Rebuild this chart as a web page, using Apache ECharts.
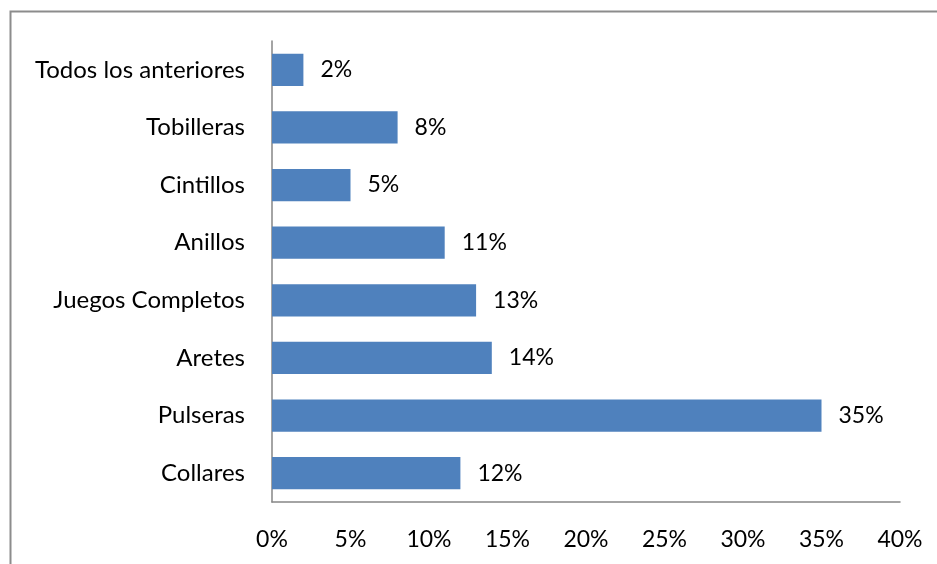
<!DOCTYPE html>
<html>
<head>
<meta charset="utf-8">
<script src="https://cdn.jsdelivr.net/npm/echarts@6/dist/echarts.min.js"></script>
<style>
  html, body { margin: 0; padding: 0; background: #fff; }
  #chart { width: 937px; height: 564px; }
</style>
</head>
<body>
<div id="chart"></div>
<script>
// Categories listed bottom to top
const categories = ['Collares', 'Pulseras', 'Aretes', 'Juegos Completos', 'Anillos', 'Cintillos', 'Tobilleras', 'Todos los anteriores'];
const percentages = [12, 35, 14, 13, 11, 5, 8, 2];
const tickValues = [0, 5, 10, 15, 20, 25, 30, 35, 40];

const FONT = 'Lato, "Open Sans", sans-serif';
const chart = echarts.init(document.getElementById('chart'));

chart.setOption({
  animation: false,
  backgroundColor: '#fff',
  graphic: [{
    type: 'rect',
    shape: { x: 10.5, y: 11.5, width: 960, height: 600 },
    style: { fill: 'none', stroke: '#8c8c8c', lineWidth: 2 },
    silent: true
  }],
  grid: { left: 272, right: 37, top: 41, bottom: 62, containLabel: false },
  xAxis: {
    type: 'value',
    min: tickValues[0],
    max: tickValues[tickValues.length - 1],
    interval: 5,
    axisLine: { show: true, lineStyle: { color: '#868686', width: 1.5 } },
    axisTick: { show: false },
    splitLine: { show: false },
    axisLabel: {
      formatter: v => v + '%',
      color: '#000',
      fontFamily: FONT,
      fontSize: 23,
      margin: 26
    }
  },
  yAxis: {
    type: 'category',
    data: categories,
    axisLine: { show: true, lineStyle: { color: '#868686', width: 1.5 } },
    axisTick: { show: false },
    axisLabel: {
      color: '#000',
      fontFamily: FONT,
      fontSize: 24,
      margin: 27
    }
  },
  series: [{
    type: 'bar',
    data: percentages,
    barWidth: '56%',
    itemStyle: { color: '#4f81bd' },
    label: {
      show: true,
      position: 'right',
      distance: 17,
      formatter: p => p.value + '%',
      color: '#000',
      fontFamily: FONT,
      fontSize: 23
    }
  }]
});
</script>
</body>
</html>
